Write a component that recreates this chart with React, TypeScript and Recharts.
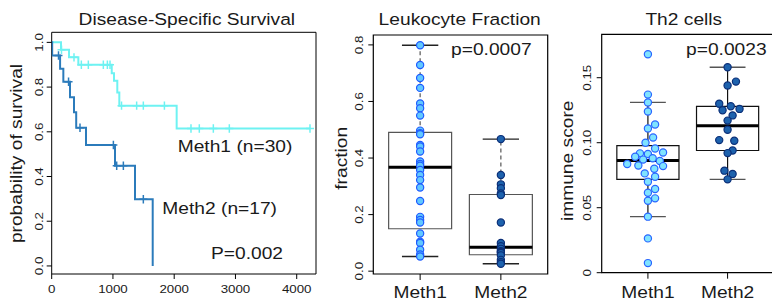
import React from 'react';
import { ComposedChart, Line, Scatter, XAxis, YAxis, ReferenceArea, ReferenceLine } from 'recharts';

const FONT = '"Liberation Sans", Arial, Helvetica, sans-serif';
const SX = 1.13;
const INK = '#1a1a1a';

const CYAN = '#6ef2f2';
const STEEL = '#2b7bbb';
const M1_FILL = '#62c8ff';
const M1_EDGE = '#1f5cff';
const M2_FILL = '#1d62ad';
const M2_EDGE = '#0b2f78';

// ---------- Kaplan-Meier (Disease-Specific Survival) ----------
const kmTicksX = [0, 1000, 2000, 3000, 4000];
const kmTicksY = [0, 0.2, 0.4, 0.6, 0.8, 1.0];
const meth1StepTimes = [0, 152, 283, 435, 980, 1017, 1071, 1104, 2040, 4217];
const meth1StepSurv = [1, 0.967, 0.933, 0.9, 0.862, 0.828, 0.776, 0.717, 0.615, 0.615];
const meth1CensorTimes = [160, 364, 484, 598, 843, 909, 952, 1140, 1387, 1496, 1840, 2274, 2410, 2639, 2900, 4217];
const meth2StepTimes = [0, 8, 137, 190, 299, 364, 400, 560, 1033, 1360, 1649];
const meth2StepSurv = [1, 0.941, 0.882, 0.824, 0.755, 0.687, 0.618, 0.541, 0.448, 0.298, 0];
const meth2CensorTimes = [111, 275, 462, 1007, 1061, 1170, 1496];

// ---------- Leukocyte Fraction ----------
const groups = ['Meth1', 'Meth2'];
const leukoMeth1 = [0.799, 0.729, 0.683, 0.648, 0.593, 0.576, 0.55, 0.497, 0.488, 0.484, 0.446, 0.441, 0.423, 0.388, 0.379, 0.373, 0.358, 0.34, 0.322, 0.296, 0.248, 0.192, 0.181, 0.172, 0.133, 0.104, 0.0996, 0.076, 0.059, 0.052];
const leukoMeth2 = [0.467, 0.34, 0.307, 0.293, 0.275, 0.269, 0.172, 0.0996, 0.088, 0.079, 0.071, 0.068, 0.064, 0.056, 0.04, 0.032, 0.026];
// lower whisker, Q1, median, Q3, upper whisker
const leukoStats1 = [0.052, 0.15, 0.367, 0.491, 0.799];
const leukoStats2 = [0.026, 0.058, 0.085, 0.271, 0.467];
const leukoTicks = [0, 0.2, 0.4, 0.6, 0.8];

// ---------- Th2 cells ----------
const th2Meth1 = [0.168, 0.137, 0.131, 0.124, 0.114, 0.111, 0.104, 0.1, 0.0956, 0.0925, 0.0918, 0.0913, 0.0892, 0.088, 0.087, 0.086, 0.0836, 0.0825, 0.082, 0.08, 0.0764, 0.0738, 0.07, 0.0644, 0.0615, 0.0572, 0.0554, 0.0431, 0.0264, 0.0074];
const th2Jitter1 = [0, 0, 0, 0, 0.09, 0, 0.065, -0.03, 0.09, 0.19, -0.1, 0, -0.16, 0.06, -0.06, 0.15, -0.26, -0.12, 0.19, 0.08, -0.04, 0.09, 0, 0.09, 0, 0.09, 0, 0, 0, 0];
const th2Meth2 = [0.158, 0.147, 0.144, 0.13, 0.128, 0.126, 0.125, 0.121, 0.117, 0.11, 0.102, 0.1015, 0.094, 0.092, 0.0785, 0.076, 0.0718];
const th2Jitter2 = [0, 0.105, 0, -0.105, 0.04, 0.15, -0.063, 0.063, 0, 0, -0.105, 0.084, 0.063, 0, -0.04, 0.063, 0];
const th2Stats1 = [0.0431, 0.0718, 0.0864, 0.0977, 0.131];
const th2Stats2 = [0.0718, 0.094, 0.113, 0.128, 0.158];
const th2Ticks = [0, 0.05, 0.1, 0.15];
const th2TickLabels = ['0', '0.05', '0.10', '0.15'];

function T({ x, y, size = 17, anchor = 'start', rot = 0, children }: any) {
  return (
    <text
      transform={`translate(${x},${y}) rotate(${rot}) scale(${SX},1)`}
      textAnchor={anchor}
      fontFamily={FONT}
      fontSize={size}
      fill={INK}
    >
      {children}
    </text>
  );
}

const stepAt = (times: number[], surv: number[], t: number) => {
  let s = surv[0];
  for (let i = 0; i < times.length; i++) if (times[i] <= t) s = surv[i];
  return s;
};

const toXY = (xs: number[], ys: number[]) => xs.map((x, i) => ({ x, y: ys[i] }));

const plus = (color: string) => (p: any) => (
  <path
    d={`M${p.cx - 4},${p.cy}H${p.cx + 4}M${p.cx},${p.cy - 4.2}V${p.cy + 4.2}`}
    stroke={color}
    strokeWidth={1.5}
    fill="none"
  />
);

const dot = (fill: string, edge: string) => (p: any) => (
  <circle cx={p.cx} cy={p.cy} r={3.6} fill={fill} stroke={edge} strokeWidth={1.2} />
);

const yTick = (dx: number, fmt: (v: number) => string) => (p: any) => (
  <T x={p.x - dx} y={p.y} rot={-90} anchor="middle" size={11.8}>
    {fmt(p.payload.value)}
  </T>
);

const xTick = (dy: number, size: number, fmt: (v: number) => string) => (p: any) => (
  <T x={p.x} y={p.y + dy} anchor="middle" size={size}>
    {fmt(p.payload.value)}
  </T>
);

const W = 772;
const H = 306;
const AX = 30; // space reserved for each axis

function KMPanel() {
  const left = 51.7, right = 316, top = 32.3, bottom = 274;
  const xDom = [0, 4315];
  const yDom = [-0.036, 1.045];
  const line1 = toXY(meth1StepTimes, meth1StepSurv);
  const line2 = toXY(meth2StepTimes, meth2StepSurv);
  const cens1 = meth1CensorTimes.map((t) => ({ x: t, y: stepAt(meth1StepTimes, meth1StepSurv, t) }));
  const cens2 = meth2CensorTimes.map((t) => ({ x: t, y: stepAt(meth2StepTimes, meth2StepSurv, t) }));
  return (
    <ComposedChart
      width={W}
      height={H}
      margin={{ left: left - AX, top, right: W - right, bottom: H - bottom - AX }}
    >
      <XAxis
        type="number"
        dataKey="x"
        domain={xDom}
        allowDataOverflow
        ticks={kmTicksX}
        height={AX}
        axisLine={false}
        tickSize={5}
        tickMargin={0}
        tickLine={{ stroke: '#000' }}
        tick={xTick(14.3, 11.8, (v) => String(v))}
        interval={0}
      />
      <YAxis
        type="number"
        dataKey="y"
        domain={yDom}
        allowDataOverflow
        ticks={kmTicksY}
        width={AX}
        axisLine={false}
        tickSize={5}
        tickMargin={0}
        tickLine={{ stroke: '#000' }}
        tick={yTick(3.4, (v) => v.toFixed(1))}
        interval={0}
      />
      <ReferenceArea x1={xDom[0]} x2={xDom[1]} y1={yDom[0]} y2={yDom[1]} fill="none" stroke="#000" strokeWidth={1} ifOverflow="visible" />
      <Line data={line1} dataKey="y" type="stepAfter" stroke={CYAN} strokeWidth={2} dot={false} isAnimationActive={false} />
      <Line data={line2} dataKey="y" type="stepAfter" stroke={STEEL} strokeWidth={2} dot={false} isAnimationActive={false} />
      <Scatter data={cens1} dataKey="y" shape={plus(CYAN)} isAnimationActive={false} />
      <Scatter data={cens2} dataKey="y" shape={plus(STEEL)} isAnimationActive={false} />
    </ComposedChart>
  );
}

function BoxPanel(props: any) {
  const { left, right, top, bottom, width, yDom, yTicks, yFmt, ytdx, v1, v2, j1, j2, s1, s2, boxStroke, whiskDash, capStroke } = props;
  const xDom = [0.42, 2.58];
  const pts1 = v1.map((v: number, i: number) => ({ x: 1 + (j1 ? j1[i] : 0), y: v }));
  const pts2 = v2.map((v: number, i: number) => ({ x: 2 + (j2 ? j2[i] : 0), y: v }));
  const hw = 0.39;
  const cw = 0.225;
  const boxes = [s1, s2].map((s: number[], gi: number) => {
    const c = gi + 1;
    return (
      <React.Fragment key={gi}>
        <ReferenceArea x1={c - hw} x2={c + hw} y1={s[1]} y2={s[3]} fill="none" stroke={boxStroke} strokeWidth={1.2} ifOverflow="visible" />
        <ReferenceLine segment={[{ x: c, y: s[3] }, { x: c, y: s[4] }]} stroke={boxStroke} strokeDasharray={whiskDash} strokeWidth={1.2} ifOverflow="visible" />
        <ReferenceLine segment={[{ x: c, y: s[0] }, { x: c, y: s[1] }]} stroke={boxStroke} strokeDasharray={whiskDash} strokeWidth={1.2} ifOverflow="visible" />
        <ReferenceLine segment={[{ x: c - cw, y: s[4] }, { x: c + cw, y: s[4] }]} stroke={capStroke} strokeWidth={1.4} ifOverflow="visible" />
        <ReferenceLine segment={[{ x: c - cw, y: s[0] }, { x: c + cw, y: s[0] }]} stroke={capStroke} strokeWidth={1.4} ifOverflow="visible" />
        <ReferenceLine segment={[{ x: c - hw, y: s[2] }, { x: c + hw, y: s[2] }]} stroke="#000" strokeWidth={3} ifOverflow="visible" />
      </React.Fragment>
    );
  });
  return (
    <ComposedChart
      width={width}
      height={H}
      margin={{ left: left - AX, top, right: width - right, bottom: H - bottom - AX }}
    >
      <XAxis
        type="number"
        dataKey="x"
        domain={xDom}
        allowDataOverflow
        ticks={[1, 2]}
        height={AX}
        axisLine={false}
        tickSize={6}
        tickMargin={0}
        tickLine={{ stroke: '#000' }}
        tick={xTick(298.2 - bottom - 6, 17, (v) => groups[v - 1])}
        interval={0}
      />
      <YAxis
        type="number"
        dataKey="y"
        domain={yDom}
        allowDataOverflow
        ticks={yTicks}
        width={AX}
        axisLine={false}
        tickSize={5}
        tickMargin={0}
        tickLine={{ stroke: '#000' }}
        tick={yTick(ytdx, yFmt)}
        interval={0}
      />
      <ReferenceArea x1={xDom[0]} x2={xDom[1]} y1={yDom[0]} y2={yDom[1]} fill="none" stroke="#000" strokeWidth={1.2} ifOverflow="visible" />
      {boxes}
      <Scatter data={pts1} dataKey="y" shape={dot(props.f1, props.e1)} isAnimationActive={false} />
      <Scatter data={pts2} dataKey="y" shape={dot(M2_FILL, M2_EDGE)} isAnimationActive={false} />
    </ComposedChart>
  );
}

export default function App() {
  const abs: React.CSSProperties = { position: 'absolute', left: 0, top: 0 };
  return (
    <div style={{ position: 'absolute', left: 0, top: 0, width: W, height: H, overflow: 'hidden', background: '#fff' }}>
      <div style={abs}>
        <KMPanel />
      </div>
      <div style={abs}>
        <BoxPanel
          left={373.3}
          right={547.7}
          top={35}
          bottom={274}
          width={W}
          yDom={[-0.01, 0.835]}
          yTicks={leukoTicks}
          yFmt={(v: number) => v.toFixed(1)}
          ytdx={5}
          v1={leukoMeth1}
          v2={leukoMeth2}
          s1={leukoStats1}
          s2={leukoStats2}
          boxStroke="#555"
          whiskDash="4 3"
          capStroke="#222"
          f1={M1_FILL}
          e1={M1_EDGE}
        />
      </div>
      <div style={abs}>
        <BoxPanel
          left={601.7}
          right={773.8}
          top={34.3}
          bottom={272.7}
          width={790}
          yDom={[0, 0.1834]}
          yTicks={th2Ticks}
          yFmt={(v: number) => th2TickLabels[th2Ticks.indexOf(v)] ?? String(v)}
          ytdx={6}
          v1={th2Meth1}
          v2={th2Meth2}
          j1={th2Jitter1}
          j2={th2Jitter2}
          s1={th2Stats1}
          s2={th2Stats2}
          boxStroke="#111"
          whiskDash=""
          capStroke="#555"
          f1="#7fe3ff"
          e1="#2a66ff"
        />
      </div>
      <svg width={W} height={H} style={{ ...abs, pointerEvents: 'none' }}>
        <T x={186.8} y={25} anchor="middle">Disease-Specific Survival</T>
        <T x={459.7} y={25} anchor="middle">Leukocyte Fraction</T>
        <T x={683.8} y={25} anchor="middle">Th2 cells</T>
        <T x={21.5} y={153.5} rot={-90} anchor="middle">probability of survival</T>
        <T x={346.5} y={158.3} rot={-90} anchor="middle">fraction</T>
        <T x={573.3} y={160.8} rot={-90} anchor="middle">immune score</T>
        <T x={177.7} y={151.7}>Meth1 (n=30)</T>
        <T x={162.3} y={214.3}>Meth2 (n=17)</T>
        <T x={211} y={259.3}>P=0.002</T>
        <T x={451} y={55}>p=0.0007</T>
        <T x={686} y={55}>p=0.0023</T>
      </svg>
    </div>
  );
}
